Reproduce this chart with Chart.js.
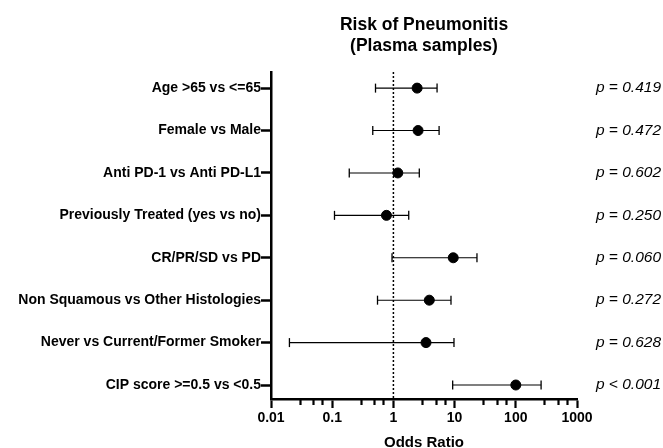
<!DOCTYPE html>
<html>
<head>
<meta charset="utf-8">
<script src="https://cdn.jsdelivr.net/npm/chart.js"></script>
<style>
  html, body { margin: 0; padding: 0; background: #fff; }
  #wrap { width: 663px; height: 448px; position: relative; }
</style>
</head>
<body>
<div id="wrap"><canvas id="forest"></canvas></div>
<script>
// Dados do gráfico
const categories = [
    'Age >65 vs <=65',
    'Female vs Male',
    'Anti PD-1 vs Anti PD-L1',
    'Previously Treated (yes vs no)',
    'CR/PR/SD vs PD',
    'Non Squamous vs Other Histologies',
    'Never vs Current/Former Smoker',
    'CIP score >=0.5 vs <0.5'
];
const oddsRatio = [2.44, 2.53, 1.18, 0.77, 9.5, 3.86, 3.41, 100];
const ciLower   = [0.51, 0.46, 0.19, 0.109, 0.95, 0.55, 0.020, 9.3];
const ciUpper   = [5.17, 5.58, 2.65, 1.78, 23.2, 8.73, 9.77, 259];
const pValues = ['p = 0.419', 'p = 0.472', 'p = 0.602', 'p = 0.250',
                 'p = 0.060', 'p = 0.272', 'p = 0.628', 'p < 0.001'];
const majorTicks = [0.01, 0.1, 1, 10, 100, 1000];
const tickLabels = ['0.01', '0.1', '1', '10', '100', '1000'];
const minorSteps = [3, 5, 7];
const titleLines = ['Risk of Pneumonitis', '(Plasma samples)'];

const FONT = "'Liberation Sans', Arial, sans-serif";
Chart.defaults.color = '#000';
Chart.defaults.font.family = FONT;

// ticks menores do eixo x (3, 5, 7 em cada década)
const minorTicks = [];
majorTicks.slice(0, -1).forEach(m => minorSteps.forEach(s => minorTicks.push(m * s)));

// barras de erro: um dataset por linha
const errorSets = categories.map((c, i) => ({
    type: 'scatter',
    label: c,
    data: [{ x: ciLower[i], y: i + 1 }, { x: ciUpper[i], y: i + 1 }],
    showLine: true,
    borderColor: '#000',
    borderWidth: 1.1,
    pointStyle: 'line',
    rotation: 90,
    pointRadius: 4.5,
    pointBorderWidth: 1.3,
    pointBorderColor: '#000',
    order: 1
}));

// texto do título e dos p-valores
const annotations = {
    id: 'annotations',
    afterDraw(chart) {
        const ctx = chart.ctx;
        const area = chart.chartArea;
        const yScale = chart.scales.y;
        ctx.save();
        ctx.fillStyle = '#000';
        ctx.textAlign = 'center';
        ctx.textBaseline = 'middle';
        ctx.font = 'bold 17.5px ' + FONT;
        const cx = (area.left + area.right) / 2;
        titleLines.forEach((t, i) => ctx.fillText(t, cx, 25 + i * 21));

        ctx.font = 'italic 15.5px ' + FONT;
        ctx.textAlign = 'right';
        pValues.forEach((p, i) => {
            ctx.fillText(p, 661, yScale.getPixelForValue(i + 1));
        });
        ctx.restore();
    }
};

new Chart(document.getElementById('forest'), {
    type: 'scatter',
    data: {
        datasets: [
            {
                label: 'Odds Ratio',
                data: oddsRatio.map((v, i) => ({ x: v, y: i + 1 })),
                pointRadius: 5,
                pointBackgroundColor: '#000',
                pointBorderColor: '#000',
                order: 0
            },
            ...errorSets,
            {
                label: 'ref',
                data: [{ x: 1, y: 0.62 }, { x: 1, y: 8.33 }],
                showLine: true,
                borderColor: '#000',
                borderWidth: 1.5,
                borderDash: [2, 2],
                pointRadius: 0,
                order: 2
            }
        ]
    },
    options: {
        responsive: true,
        maintainAspectRatio: false,
        animation: false,
        layout: { padding: { top: 72, right: 86, left: 0, bottom: 0 } },
        plugins: {
            legend: { display: false },
            tooltip: { enabled: false }
        },
        scales: {
            x: {
                type: 'logarithmic',
                min: 0.01,
                max: 1000,
                weight: 0,
                afterBuildTicks: s => { s.ticks = majorTicks.map(v => ({ value: v })); },
                afterFit: s => { s.height = 49; },
                ticks: {
                    autoSkip: false,
                    maxRotation: 0,
                    padding: 2,
                    font: { size: 14, weight: 'bold' },
                    callback: v => tickLabels[majorTicks.indexOf(v)]
                },
                grid: {
                    drawOnChartArea: false,
                    drawTicks: true,
                    tickLength: 9,
                    tickWidth: 2.2,
                    tickColor: '#000'
                },
                border: { display: true, color: '#000', width: 2.5 },
                title: {
                    display: true,
                    text: 'Odds Ratio',
                    font: { size: 15, weight: 'bold', lineHeight: 1 },
                    padding: { top: 0, bottom: -2 }
                }
            },
            xMinor: {
                type: 'logarithmic',
                position: 'bottom',
                min: 0.01,
                max: 1000,
                weight: -1,
                afterBuildTicks: s => { s.ticks = minorTicks.map(v => ({ value: v })); },
                afterFit: s => { s.height = 0; },
                ticks: { display: false, autoSkip: false },
                grid: {
                    drawOnChartArea: false,
                    drawTicks: true,
                    tickLength: 6,
                    tickWidth: 2.2,
                    tickColor: '#000'
                },
                border: { display: false }
            },
            y: {
                type: 'linear',
                reverse: true,
                min: 0.62,
                max: 8.33,
                afterBuildTicks: s => { s.ticks = categories.map((c, i) => ({ value: i + 1 })); },
                afterFit: s => { s.width = 271; },
                ticks: {
                    autoSkip: false,
                    padding: 0,
                    font: { size: 14, weight: 'bold' },
                    callback: v => categories[v - 1]
                },
                grid: {
                    drawOnChartArea: false,
                    drawTicks: true,
                    tickLength: 10,
                    tickWidth: 2.5,
                    tickColor: '#000'
                },
                border: { display: true, color: '#000', width: 2.5 }
            }
        }
    },
    plugins: [annotations]
});
</script>
</body>
</html>
